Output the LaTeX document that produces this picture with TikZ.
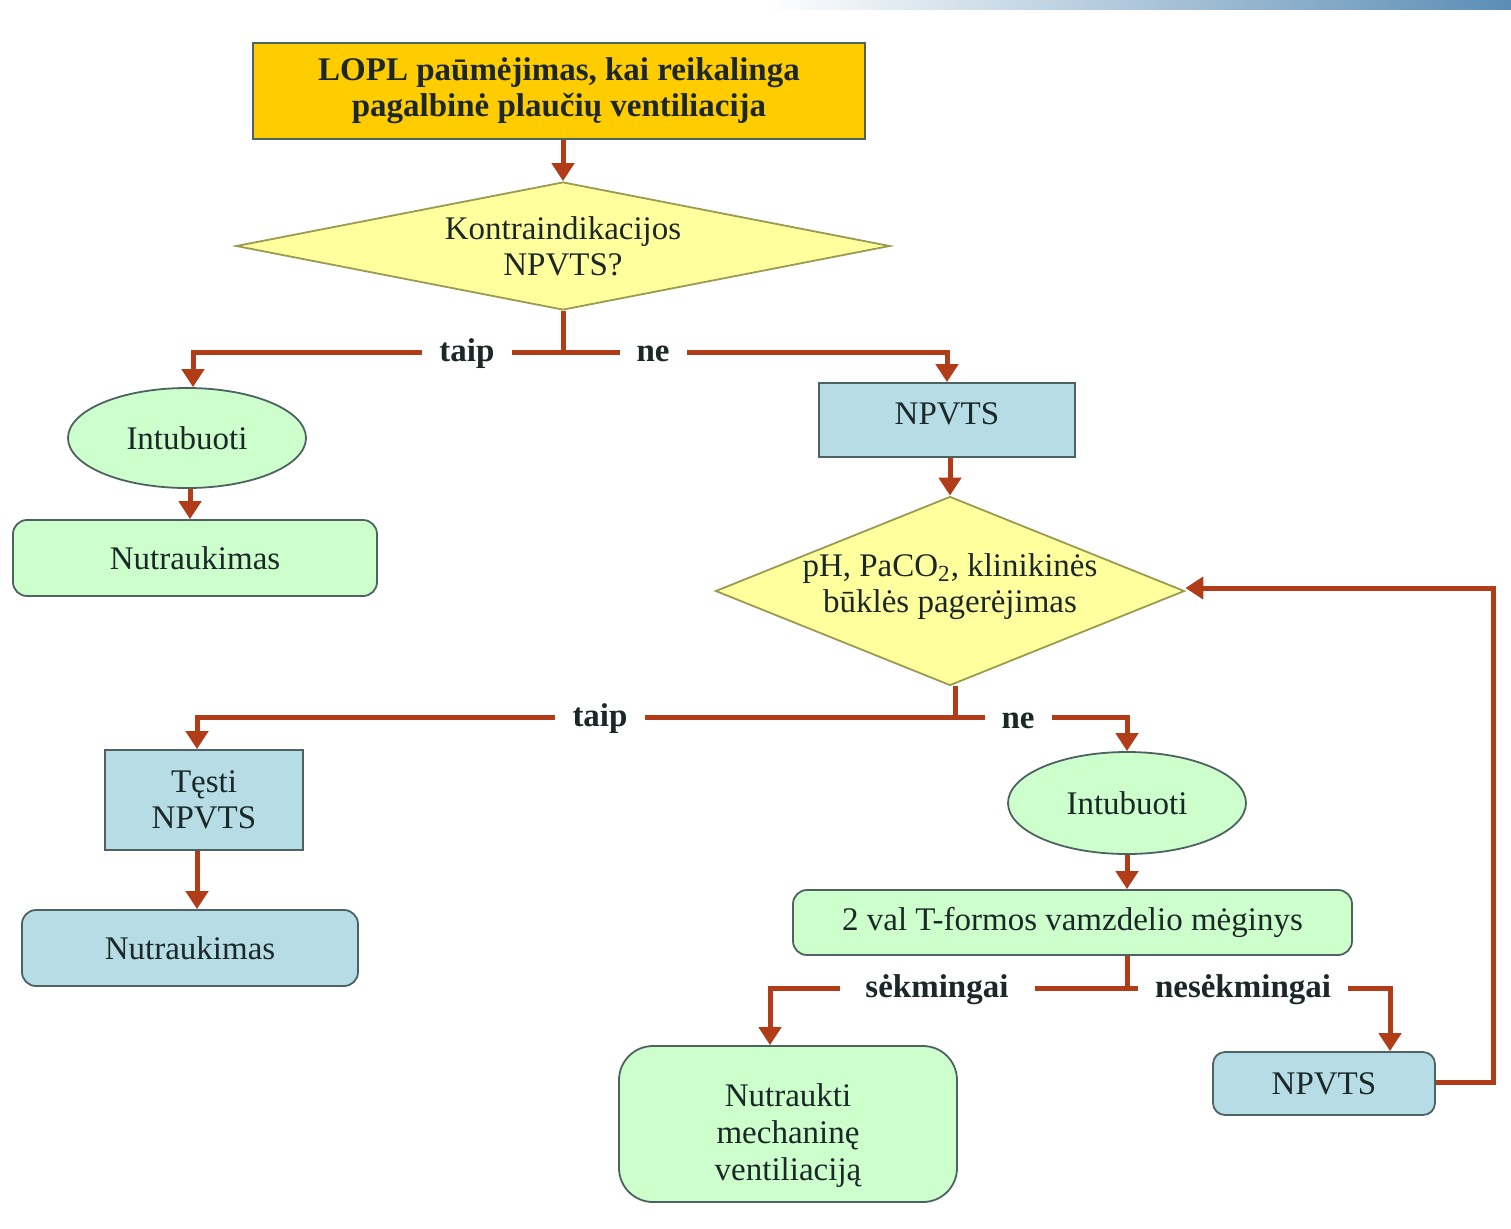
\documentclass[tikz,border=0pt]{standalone}
\usepackage{fontspec}
\setmainfont{Liberation Serif}
\usetikzlibrary{shapes.geometric,arrows.meta,calc}

\definecolor{gold}{HTML}{FFCC00}
\definecolor{paleyellow}{HTML}{FFFF9E}
\definecolor{mint}{HTML}{CCFFCC}
\definecolor{iceblue}{HTML}{B6DDE6}
\definecolor{flowline}{RGB}{176,60,24}
\definecolor{edge}{HTML}{4F6262}
\definecolor{olive}{HTML}{9A9A50}
\definecolor{ink}{HTML}{1C2828}
\definecolor{barblue}{HTML}{5B8DB5}

% shift text vertically without changing the space it reserves
\newcommand{\nudge}[2]{\raisebox{#1}[\height][\depth]{#2}}

\tikzset{
  every node/.style={text=ink, font=\fontsize{16.5}{18}\selectfont, align=center, inner sep=0pt},
  boxbase/.style={draw=edge, line width=0.9pt},
  goldbox/.style={boxbase, fill=gold, font=\fontsize{16.5}{18}\selectfont\bfseries},
  bluebox/.style={boxbase, fill=iceblue, rectangle},
  bluerbox/.style={boxbase, fill=iceblue, rectangle, rounded corners=7pt},
  greenbox/.style={boxbase, fill=mint, rectangle, rounded corners=7pt},
  greenoval/.style={boxbase, fill=mint, ellipse},
  question/.style={draw=olive, line width=0.9pt, fill=paleyellow, diamond},
  flow/.style={draw=flowline, line width=2.5pt, -{Triangle[width=11pt,length=9pt]}},
  answer/.style={fill=white, inner xsep=8.5pt, inner ysep=2pt, font=\fontsize{16.5}{18}\selectfont\bfseries},
}

\begin{document}
\begin{tikzpicture}[x=0.5pt, y=-0.5pt]
\path[use as bounding box] (0,0) rectangle (1511,1228);

% banner strip along the top edge
\shade[left color=white, right color=barblue, draw=none] (765,0) rectangle (1511,9);

% nodes
\node[goldbox, minimum width=306pt, minimum height=48pt] (top) at (559,91)
  {LOPL paūmėjimas, kai reikalinga\\pagalbinė plaučių ventiliacija};

\node[question, shape aspect=5.1, minimum width=327pt, minimum height=64pt] (d1) at (563,246)
  {Kontraindikacijos\\NPVTS?};

\node[greenoval, minimum width=119pt, minimum height=50pt] (ell1) at (187,438) {Intubuoti};
\node[greenbox, minimum width=182pt, minimum height=38pt] (nut1) at (195,558) {Nutraukimas};

\node[bluebox, minimum width=128pt, minimum height=37pt] (npv1) at (947,420) {\nudge{3pt}{NPVTS}};

\node[question, shape aspect=2.48, inner sep=-4pt, minimum width=234.5pt, minimum height=94.5pt] (d2) at (950,591)
  {\nudge{2pt}{\begin{tabular}{@{}c@{}}pH, PaCO\textsubscript{2}, klinikinės\\būklės pagerėjimas\end{tabular}}};

\node[bluebox, minimum width=99pt, minimum height=50pt] (tes) at (204,800) {Tęsti\\NPVTS};
\node[bluerbox, minimum width=168pt, minimum height=38pt] (nut2) at (190,948) {Nutraukimas};

\node[greenoval, minimum width=119pt, minimum height=51pt] (ell2) at (1127,803) {Intubuoti};
\node[greenbox, minimum width=279.5pt, minimum height=32.5pt] (tval) at (1072.5,922.5)
  {2 val T-formos vamzdelio mėginys};

\node[greenbox, rounded corners=17pt, minimum width=169pt, minimum height=78pt] (nm) at (788,1124)
  {\nudge{-6pt}{\fontsize{16.5}{18.5}\selectfont\begin{tabular}{@{}c@{}}Nutraukti\\mechaninę\\ventiliaciją\end{tabular}}};
\node[bluerbox, rounded corners=6pt, minimum width=111pt, minimum height=31.5pt] (npv3) at (1324,1083.5) {NPVTS};

% junction points
\coordinate (j1) at (563,352);
\coordinate (j2) at (950,717);
\coordinate (j3) at (1127,988);

% connectors
\draw[flow] (d1.north |- top.south) -- (d1.north);

\draw[flow] (d1.south) -- (d1.south |- j1) -| ([xshift=3pt]ell1.north);
\draw[flow] (d1.south) -- (d1.south |- j1) -| (npv1.north);

\draw[flow] ([xshift=1.5pt]ell1.south) -- ([xshift=1.5pt]ell1.south |- nut1.north);
\draw[flow] (d2.north |- npv1.south) -- (d2.north);

\draw[flow] ([xshift=2.5pt]d2.south) -- ([xshift=2.5pt]d2.south |- j2) -| ([xshift=-3.5pt]tes.north);
\draw[flow] ([xshift=2.5pt]d2.south) -- ([xshift=2.5pt]d2.south |- j2) -| (ell2.north);

\draw[flow] ([xshift=-3.5pt]tes.south) -- ([xshift=-3.5pt]tes.south |- nut2.north);
\draw[flow] (ell2.south) -- (ell2.south |- tval.north);

\draw[flow] (j3 |- tval.south) -- (j3) -| ([xshift=-9pt]nm.north);
\draw[flow] (j3 |- tval.south) -- (j3) -| ([xshift=33pt]npv3.north);

\draw[flow] ([yshift=0.5pt]npv3.east) -- ++(58,0) |- ([yshift=1.5pt]d2.east);

% answer labels on the branches
\node[answer] (l1) at (467,354) {taip};
\node[answer] (l2) at (653,354) {ne};
\node[answer] (l3) at (600,719) {taip};
\node[answer] (l4) at (1018,721) {ne};
\node[answer, minimum width=97.5pt] (l5) at (937,990) {sėkmingai};
\node[answer] (l6) at (1243,990) {nesėkmingai};

\end{tikzpicture}
\end{document}
